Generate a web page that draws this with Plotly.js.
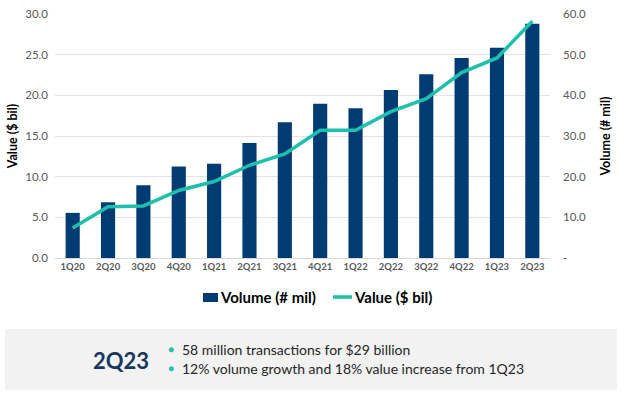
<!DOCTYPE html>
<html>
<head>
<meta charset="utf-8">
<script src="https://cdn.plot.ly/plotly-3.0.1.min.js"></script>
<style>html,body{margin:0;padding:0;background:#fff;}#chart{width:624px;height:394px;}</style>
</head>
<body>
<div id="chart"></div>
<script>
const quarters = ["1Q20","2Q20","3Q20","4Q20","1Q21","2Q21","3Q21","4Q21","1Q22","2Q22","3Q22","4Q22","1Q23","2Q23"];
const volumeMil = [11.1, 13.7, 17.9, 22.5, 23.2, 28.3, 33.4, 37.9, 36.8, 41.3, 45.2, 49.2, 51.7, 57.6];
const valueBil = [3.7, 6.3, 6.4, 8.3, 9.4, 11.4, 12.8, 15.7, 15.7, 18.0, 19.6, 22.8, 24.6, 29.1];
const volTickVals = [0, 10, 20, 30, 40, 50, 60];
const volTickText = ["-", "10.0", "20.0", "30.0", "40.0", "50.0", "60.0"];
const valTickVals = [0, 5, 10, 15, 20, 25, 30];
const valTickText = ["0.0", "5.0", "10.0", "15.0", "20.0", "25.0", "30.0"];
const seriesNames = ["Volume (# mil)", "Value ($ bil)"];
const highlightLabel = "2Q23";
const bullets = ["58 million transactions for $29 billion", "12% volume growth and 18% value increase from 1Q23"];

const F = "Lato, 'Open Sans', sans-serif";
const BAR = "#003b73", LINE = "#1dbfad";
const L = 55, R = 624 - 74, T = 14, B = 258;
const px = x => (x - L) / (R - L);
const py = y => (B - y) / (B - T);

const traces = [
  {type: "bar", x: quarters, y: volumeMil, name: seriesNames[0], yaxis: "y",
   marker: {color: BAR}},
  {type: "scatter", mode: "lines", x: quarters, y: valueBil, name: seriesNames[1], yaxis: "y2",
   line: {color: LINE, width: 3.5}}
];

const annotations = [
  {text: "<b>" + highlightLabel + "</b>", xref: "paper", yref: "paper", x: px(121), y: py(360),
   showarrow: false, xanchor: "center", yanchor: "middle", font: {family: F, size: 22, color: "#17375e"}},
  {text: "<b>" + seriesNames[0] + "</b>", xref: "paper", yref: "paper", x: px(218), y: py(297),
   showarrow: false, xanchor: "left", yanchor: "middle", font: {family: F, size: 15, color: "#000000"}},
  {text: "<b>" + seriesNames[1] + "</b>", xref: "paper", yref: "paper", x: px(352), y: py(297),
   showarrow: false, xanchor: "left", yanchor: "middle", font: {family: F, size: 15, color: "#000000"}}
];
bullets.forEach((b, i) => {
  const yy = i === 0 ? 349 : 368;
  annotations.push({text: "●", xref: "paper", yref: "paper", x: px(171), y: py(yy), showarrow: false,
    xanchor: "center", yanchor: "middle", font: {family: F, size: 10, color: LINE}});
  annotations.push({text: b, xref: "paper", yref: "paper", x: px(180), y: py(yy), showarrow: false,
    xanchor: "left", yanchor: "middle", font: {family: F, size: 14, color: "#262626"}});
});

const layout = {
  width: 624, height: 394,
  margin: {l: L, r: 624 - R, t: T, b: 394 - B},
  paper_bgcolor: "#ffffff", plot_bgcolor: "#ffffff",
  bargap: 0.6,
  showlegend: false,
  xaxis: {type: "category", tickfont: {family: F, size: 9.5, color: "#595959", weight: "bold"},
    showgrid: false, showline: true, linecolor: "#d9d9d9", linewidth: 1, ticks: "", fixedrange: true},
  yaxis: {side: "right", range: [0, 60], tickvals: volTickVals, ticktext: volTickText,
    tickfont: {family: F, size: 11.5, color: "#595959"}, showgrid: true, gridcolor: "#e3e3e3", gridwidth: 1,
    zeroline: false, ticks: "", ticklabelstandoff: 12,
    title: {text: "Volume (# mil)", font: {family: F, size: 12.5, color: "#000000", weight: "bold"}, standoff: 16}},
  yaxis2: {side: "left", overlaying: "y", range: [0, 30], tickvals: valTickVals, ticktext: valTickText,
    tickfont: {family: F, size: 11.5, color: "#595959"}, showgrid: false, zeroline: false, ticks: "",
    ticklabelstandoff: 6,
    title: {text: "Value ($ bil)", font: {family: F, size: 12.5, color: "#000000", weight: "bold"}, standoff: 4}},
  shapes: [
    {type: "rect", xref: "paper", yref: "paper", x0: px(5), x1: px(617), y0: py(390), y1: py(329),
     fillcolor: "#f2f2f2", line: {width: 0}, layer: "below"},
    {type: "rect", xref: "paper", yref: "paper", x0: px(203), x1: px(218), y0: py(302), y1: py(293),
     fillcolor: BAR, line: {width: 0}},
    {type: "line", xref: "paper", yref: "paper", x0: px(333), x1: px(352), y0: py(297), y1: py(297),
     line: {color: LINE, width: 3.5}}
  ],
  annotations: annotations
};

Plotly.newPlot("chart", traces, layout, {displayModeBar: false, staticPlot: true});
</script>
</body>
</html>
